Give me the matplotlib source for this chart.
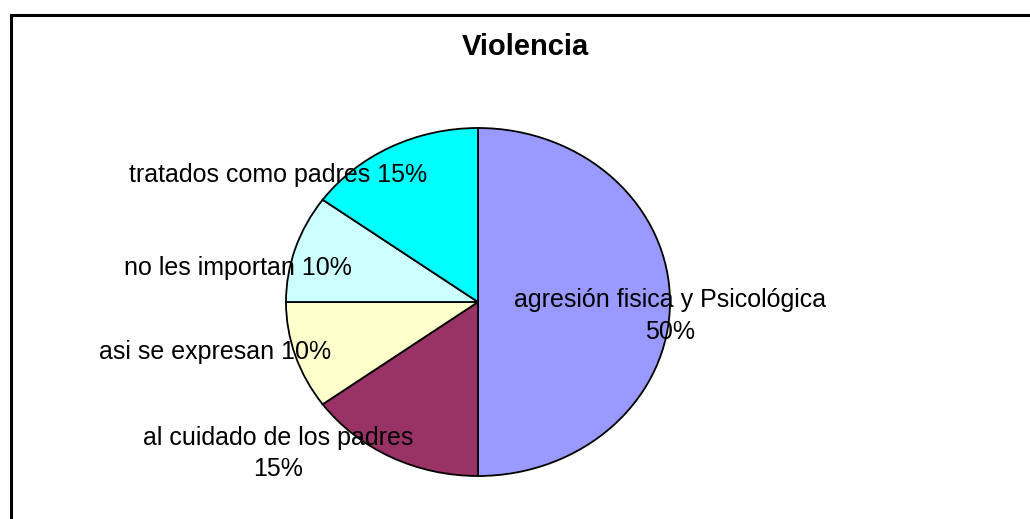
import matplotlib
matplotlib.use('Agg')
import matplotlib.pyplot as plt
from matplotlib.patches import Rectangle

# Datos del grafico
labels = ['agresión fisica y Psicológica', 'al cuidado de los padres', 'asi se expresan',
          'no les importan', 'tratados como padres']
values = [50, 15, 10, 10, 15]
colors = ['#9999FF', '#993366', '#FFFFCC', '#CCFFFF', '#00FFFF']
# separador entre etiqueta y porcentaje (Excel parte algunas en dos lineas)
seps = ['\n', '\n', ' ', ' ', ' ']
# posicion de cada etiqueta, en unidades del radio
label_pos = [(1.00, -0.08), (-1.04, -0.87), (-1.37, -0.29), (-1.25, 0.195), (-1.04, 0.73)]

plt.rcParams['font.family'] = ['Liberation Sans', 'DejaVu Sans']

fig = plt.figure(figsize=(10.30, 5.19), dpi=100)
W, H = 1030, 519

# marco del grafico (cortado a la derecha y abajo)
fig.patches.append(Rectangle((10.5 / W, -0.1), 1.2, (H - 14.5) / H + 0.1, transform=fig.transFigure,
                             fill=False, edgecolor='black', linewidth=2.2))

# centro (478, 302), radios 192 x 174 px
cx, cy, rx, ry = 478, 302, 192, 174
kx, ky = 2.0, 1.4
ax = fig.add_axes([(cx - rx * kx) / W, (H - cy - ry * ky) / H, 2 * rx * kx / W, 2 * ry * ky / H])
ax.pie(values, colors=colors, startangle=90, counterclock=False,
       wedgeprops=dict(edgecolor='black', linewidth=1.3))
ax.set_aspect('auto')
ax.set_xlim(-kx, kx)
ax.set_ylim(-ky, ky)
ax.axis('off')

for lab, v, s, (x, y) in zip(labels, values, seps, label_pos):
    ax.text(x, y, f'{lab}{s}{v}%', ha='center', va='center', fontsize=18,
            linespacing=1.4, color='black')

fig.text(525 / W, 1 - 47 / H, 'Violencia', ha='center', va='center', fontsize=21,
         fontweight='bold')

fig.savefig('out.png', dpi=100)
